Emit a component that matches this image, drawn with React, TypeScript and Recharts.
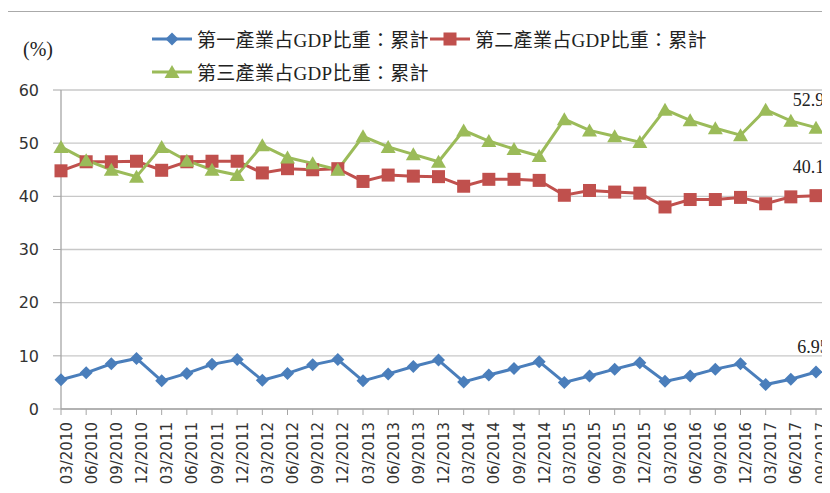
import React from 'react'
import { LineChart, Line, XAxis, YAxis, CartesianGrid } from 'recharts'

const quarters = [
  '03/2010', '06/2010', '09/2010', '12/2010',
  '03/2011', '06/2011', '09/2011', '12/2011',
  '03/2012', '06/2012', '09/2012', '12/2012',
  '03/2013', '06/2013', '09/2013', '12/2013',
  '03/2014', '06/2014', '09/2014', '12/2014',
  '03/2015', '06/2015', '09/2015', '12/2015',
  '03/2016', '06/2016', '09/2016', '12/2016',
  '03/2017', '06/2017', '09/2017',
]

const primary = [
  5.5, 6.8, 8.5, 9.5, 5.3, 6.7, 8.4, 9.3, 5.4, 6.7, 8.3, 9.3, 5.3, 6.6, 8.0, 9.2,
  5.1, 6.4, 7.6, 8.9, 5.0, 6.2, 7.5, 8.7, 5.2, 6.2, 7.5, 8.5, 4.6, 5.6, 6.95,
]
const secondary = [
  44.8, 46.5, 46.5, 46.6, 44.9, 46.5, 46.6, 46.6, 44.4, 45.2, 45.0, 45.2, 42.8, 44.0, 43.8, 43.7,
  41.9, 43.2, 43.2, 43.0, 40.2, 41.1, 40.8, 40.6, 38.0, 39.4, 39.4, 39.8, 38.6, 39.9, 40.13,
]
const tertiary = [
  49.3, 46.8, 45.0, 43.7, 49.3, 46.7, 45.0, 44.0, 49.6, 47.3, 46.2, 45.0, 51.3, 49.3, 47.9, 46.5,
  52.4, 50.4, 48.9, 47.6, 54.5, 52.4, 51.3, 50.2, 56.3, 54.3, 52.8, 51.5, 56.3, 54.2, 52.92,
]
const yTicks = [0, 10, 20, 30, 40, 50, 60]

const names = {
  primary: '第一產業占GDP比重：累計',
  secondary: '第二產業占GDP比重：累計',
  tertiary: '第三產業占GDP比重：累計',
}

const BLUE = '#4a7ebb'
const RED = '#c0504d'
const GREEN = '#9bbb59'

const data = quarters.map((q, i) => ({
  q,
  primary: primary[i],
  secondary: secondary[i],
  tertiary: tertiary[i],
}))

const serif = '"Liberation Serif", "Noto Sans CJK TC", serif'
const sans = '"DejaVu Sans", sans-serif'

function Marker({ kind, cx, cy, color }: { kind: string; cx: number; cy: number; color: string }) {
  if (kind === 'diamond') {
    const r = 6.5
    return <polygon points={`${cx},${cy - r} ${cx + r},${cy} ${cx},${cy + r} ${cx - r},${cy}`} fill={color} />
  }
  if (kind === 'square') {
    return <rect x={cx - 6.5} y={cy - 6.5} width={13} height={13} fill={color} />
  }
  return <polygon points={`${cx},${cy - 7} ${cx + 7.5},${cy + 6} ${cx - 7.5},${cy + 6}`} fill={color} />
}

const dotFor = (kind: string, color: string) => (p: any) =>
  <Marker key={`${kind}-${p.index}`} kind={kind} cx={p.cx} cy={p.cy} color={color} />

// only the last point carries a value label, as in the source chart
const lastLabel = (dy: number) => (p: any) => {
  if (p.index !== quarters.length - 1) return null
  return (
    <text x={p.x - 3} y={p.y + dy} textAnchor="middle" fontFamily={serif} fontSize={18} fill="#222">
      {p.value}
    </text>
  )
}

function LegendItem({ kind, color, label }: { kind: string; color: string; label: string }) {
  return (
    <div style={{ display: 'flex', alignItems: 'center', width: 278, height: 33 }}>
      <svg width={40} height={16} style={{ flex: 'none' }}>
        <line x1={0} y1={8} x2={40} y2={8} stroke={color} strokeWidth={3} />
        <Marker kind={kind} cx={20} cy={8} color={color} />
      </svg>
      <span style={{ marginLeft: 5, fontFamily: serif, fontSize: 19, letterSpacing: 0.3, color: '#222', whiteSpace: 'nowrap' }}>
        {label}
      </span>
    </div>
  )
}

export default function App() {
  return (
    <div
      style={{
        position: 'relative',
        marginLeft: -1,
        marginTop: 3,
        width: 822,
        height: 481,
        borderLeft: '1px solid #aaa',
        borderTop: '1px solid #aaa',
        overflow: 'hidden',
        background: '#fff',
      }}
    >
      <span style={{ position: 'absolute', left: 15, top: 26, fontFamily: serif, fontSize: 20, color: '#222' }}>(%)</span>
      <div style={{ position: 'absolute', left: 144, top: 10, width: 580, display: 'flex', flexWrap: 'wrap', zIndex: 2 }}>
        <LegendItem kind="diamond" color={BLUE} label={names.primary} />
        <LegendItem kind="square" color={RED} label={names.secondary} />
        <LegendItem kind="triangle" color={GREEN} label={names.tertiary} />
      </div>
      <LineChart width={822} height={481} data={data} margin={{ top: 78, right: 8, bottom: 0, left: 0 }}>
        <CartesianGrid vertical={false} stroke="#c8c8c8" strokeWidth={1.3} />
        <XAxis
          dataKey="q"
          interval={0}
          height={84}
          padding={{ left: 0, right: 6 }}
          angle={-90}
          textAnchor="end"
          tickSize={6}
          tickMargin={7}
          axisLine={{ stroke: '#a6a6a6', strokeWidth: 1.3 }}
          tickLine={{ stroke: '#a6a6a6' }}
          tick={{ fontFamily: sans, fontSize: 15, fill: '#333' }}
        />
        <YAxis
          domain={[0, 60]}
          ticks={yTicks}
          width={53}
          tickSize={8}
          tickMargin={14}
          axisLine={{ stroke: '#a6a6a6', strokeWidth: 1.3 }}
          tickLine={{ stroke: '#a6a6a6' }}
          tick={{ fontFamily: sans, fontSize: 16, fill: '#333' }}
        />
        <Line
          dataKey="primary"
          name={names.primary}
          stroke={BLUE}
          strokeWidth={3}
          dot={dotFor('diamond', BLUE)}
          label={lastLabel(-19)}
          isAnimationActive={false}
        />
        <Line
          dataKey="secondary"
          name={names.secondary}
          stroke={RED}
          strokeWidth={3}
          dot={dotFor('square', RED)}
          label={lastLabel(-23)}
          isAnimationActive={false}
        />
        <Line
          dataKey="tertiary"
          name={names.tertiary}
          stroke={GREEN}
          strokeWidth={3}
          dot={dotFor('triangle', GREEN)}
          label={lastLabel(-22)}
          isAnimationActive={false}
        />
      </LineChart>
    </div>
  )
}
